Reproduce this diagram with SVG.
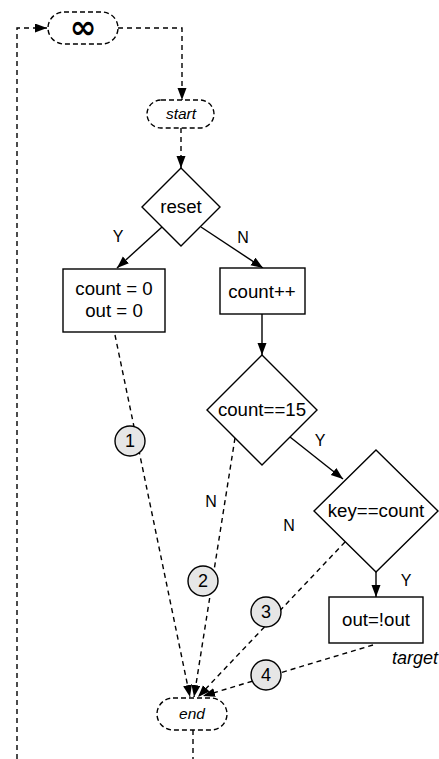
<svg xmlns="http://www.w3.org/2000/svg" width="439" height="759" viewBox="0 0 439 759">
<style>
text{font-family:"Liberation Sans",Arial,sans-serif;fill:#000;text-anchor:middle}
.t{font-size:18.67px}
.lbl{font-size:16px}
.num{font-size:18px}
.it{font-style:italic;font-size:15.5px}
.box{fill:#fff;stroke:#000;stroke-width:1.4}
.term{fill:#fff;stroke:#000;stroke-width:1.4;stroke-dasharray:5 3}
.cir{fill:#e6e6e6;stroke:#000;stroke-width:1.4}
.solid{fill:none;stroke:#000;stroke-width:1.4;marker-end:url(#ah)}
.dash{fill:none;stroke:#000;stroke-width:1.4;stroke-dasharray:5 4;marker-end:url(#ah)}
.dashn{fill:none;stroke:#000;stroke-width:1.4;stroke-dasharray:5 4}
</style>
<defs>
<marker id="ah" markerUnits="userSpaceOnUse" markerWidth="13" markerHeight="10" refX="12" refY="4.5" orient="auto">
<path d="M0,0 L12,4.5 L0,9 z" fill="#000"/>
</marker>
</defs>
<g id="connectors">
<path class="dash" d="M17,759 V28 H47"/>
<path class="dash" d="M118,28 H182 V100"/>
<path class="dash" d="M181,128 V168"/>
<path class="solid" d="M162,227 L117,268"/>
<path class="solid" d="M201,227 L263,268"/>
<path class="solid" d="M262,314 V355"/>
<path class="solid" d="M290,437 L343,479"/>
<path class="solid" d="M376,572 V597"/>
<path class="dash" d="M115,335 L190,697"/>
<path class="dash" d="M235,438 L194,697"/>
<path class="dash" d="M345,542 L198,697"/>
<path class="dash" d="M373,645 L203,696"/>
<path class="dashn" d="M193,730 V759"/>
<text class="lbl" x="118" y="242">Y</text>
<text class="lbl" x="243" y="243">N</text>
<text class="lbl" x="320" y="446">Y</text>
<text class="lbl" x="211" y="507">N</text>
<text class="lbl" x="289" y="531">N</text>
<text class="lbl" x="406" y="586">Y</text>
</g>
<g id="loop"><rect class="term" x="48" y="12" width="70" height="32" rx="16"/><text x="83" y="38" style="font-family:'DejaVu Sans',sans-serif;font-size:32px;font-weight:bold;font-style:italic">∞</text></g>
<g id="start"><rect class="term" x="147" y="100" width="67" height="28" rx="14"/><text class="it" x="181" y="119">start</text></g>
<g id="reset"><polygon class="box" points="181,168 220,207 181,246 142,207"/><text class="t" x="181" y="213">reset</text></g>
<g id="init"><rect class="box" x="63" y="269" width="102" height="63"/><text class="t" x="114" y="295">count = 0</text><text class="t" x="114" y="317">out = 0</text></g>
<g id="inc"><rect class="box" x="220" y="268" width="85" height="46"/><text class="t" x="262" y="298">count++</text></g>
<g id="cmp15"><polygon class="box" points="262,355 317,410 262,465 207,410"/><text class="t" x="262" y="416">count==15</text></g>
<g id="keycmp"><polygon class="box" points="376,450 438,511 376,572 314,511"/><text class="t" x="376" y="517">key==count</text></g>
<g id="toggle"><rect class="box" x="329" y="597" width="94" height="46"/><text class="t" x="376" y="626">out=!out</text><text x="438" y="664" style="font-size:18px;font-style:italic;text-anchor:end">target</text></g>
<g id="end"><rect class="term" x="157" y="698" width="70" height="32" rx="16"/><text class="it" x="192" y="719">end</text></g>
<g id="c1"><circle class="cir" cx="130" cy="441" r="15"/><text class="num" x="130" y="447">1</text></g>
<g id="c2"><circle class="cir" cx="203" cy="581" r="15"/><text class="num" x="203" y="587">2</text></g>
<g id="c3"><circle class="cir" cx="266" cy="612" r="15"/><text class="num" x="266" y="618">3</text></g>
<g id="c4"><circle class="cir" cx="266" cy="675" r="15"/><text class="num" x="266" y="681">4</text></g>
</svg>
